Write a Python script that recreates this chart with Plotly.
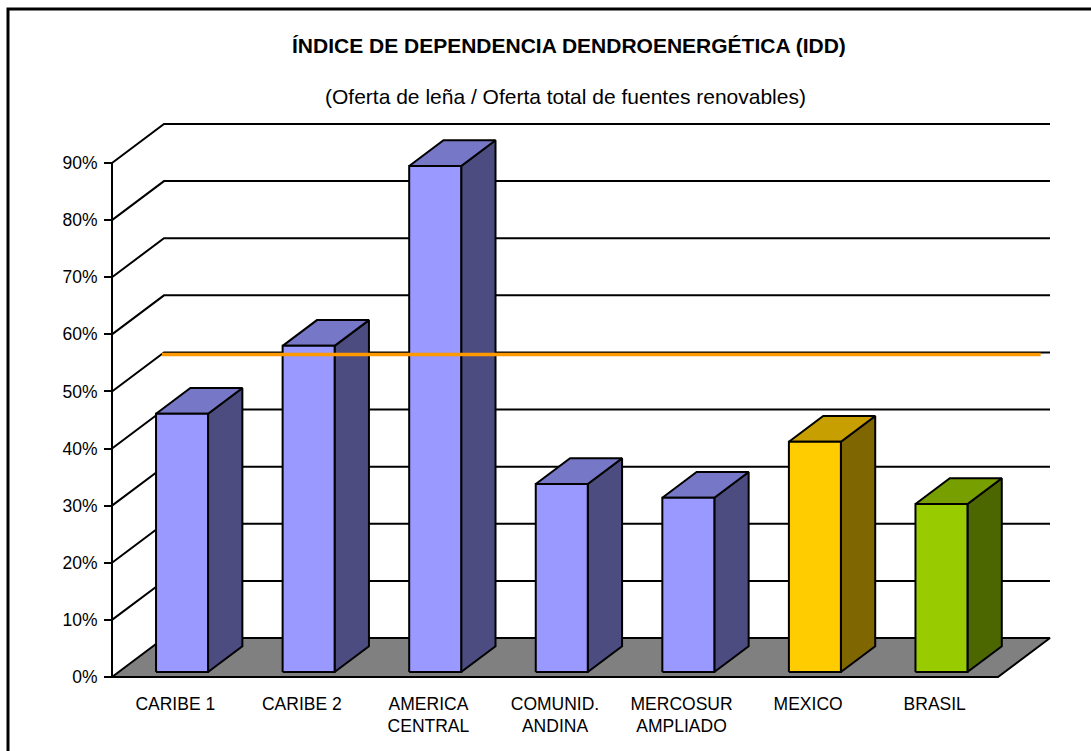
import plotly.graph_objects as go

# ---------------- data ----------------
categorias = ["CARIBE 1", "CARIBE 2", "AMERICA<br>CENTRAL", "COMUNID.<br>ANDINA",
              "MERCOSUR<br>AMPLIADO", "MEXICO", "BRASIL"]
idd = [0.452, 0.571, 0.886, 0.329, 0.305, 0.403, 0.294]
colores = ["#9999FF", "#9999FF", "#9999FF", "#9999FF", "#9999FF", "#FFCC00", "#99CC00"]
referencia = 0.556
ticks_y = [0.0, 0.1, 0.2, 0.3, 0.4, 0.5, 0.6, 0.7, 0.8, 0.9]
etiquetas_y = ["0%", "10%", "20%", "30%", "40%", "50%", "60%", "70%", "80%", "90%"]
titulo = "ÍNDICE DE DEPENDENCIA DENDROENERGÉTICA (IDD)"
subtitulo = "(Oferta de leña / Oferta total de fuentes renovables)"

# ---------------- geometry (layout only) ----------------
W, H = 1091, 751
PX_X = 126.57          # pixels per category unit
PX_Y = 571.1           # pixels per 1.0 (100%)
X0_PX, Y0_PX = 112, 677   # pixel of origin (front-left floor corner)
L_PX, R_PX, T_PX, B_PX = 102, 1060, 110, 687   # plot-area box
DX = 52 / PX_X         # depth offset in x units
DY = 39 / PX_Y         # depth offset in y units
BW = 52 / PX_X         # bar width
D0, D1 = 0.13, 0.79    # bar depth span (fraction of floor depth)
N = len(categorias)
FONT = "Arial, Liberation Sans, sans-serif"

x_range = [(L_PX - X0_PX) / PX_X, (R_PX - X0_PX) / PX_X]
y_range = [(Y0_PX - B_PX) / PX_Y, (Y0_PX - T_PX) / PX_Y]


def px_paper_x(px):
    return (px - L_PX) / (R_PX - L_PX)


def px_paper_y(py):
    return (B_PX - py) / (B_PX - T_PX)


def shade(hexcol, f):
    h = hexcol.lstrip("#")
    r, g, b = (int(h[i:i + 2], 16) for i in (0, 2, 4))
    return "rgb(%d,%d,%d)" % (round(r * f), round(g * f), round(b * f))


fig = go.Figure()

# walls: left diagonals + back gridlines
gx, gy = [], []
for v in ticks_y[1:]:
    gx += [0, DX, N + DX, None]
    gy += [v, v + DY, v + DY, None]
fig.add_trace(go.Scatter(x=gx, y=gy, mode="lines", line=dict(color="black", width=2),
                         hoverinfo="skip"))

# floor
fig.add_trace(go.Scatter(x=[0, N, N + DX, DX, 0], y=[0, 0, DY, DY, 0], mode="lines",
                         fill="toself", fillcolor="#808080",
                         line=dict(color="black", width=2), hoverinfo="skip"))

# vertical axis line
fig.add_trace(go.Scatter(x=[0, 0], y=[0, ticks_y[-1]], mode="lines",
                         line=dict(color="black", width=2), hoverinfo="skip"))

# bars
ox0, oy0, ox1, oy1 = D0 * DX, D0 * DY, D1 * DX, D1 * DY
for i, (v, c) in enumerate(zip(idd, colores)):
    xl = i + 0.5 - BW / 2
    xr = xl + BW
    faces = [
        ([xr + ox0, xr + ox1, xr + ox1, xr + ox0, xr + ox0],
         [oy0, oy1, oy1 + v, oy0 + v, oy0], shade(c, 0.5)),
        ([xl + ox0, xr + ox0, xr + ox1, xl + ox1, xl + ox0],
         [oy0 + v, oy0 + v, oy1 + v, oy1 + v, oy0 + v], shade(c, 0.78)),
        ([xl + ox0, xr + ox0, xr + ox0, xl + ox0, xl + ox0],
         [oy0, oy0, oy0 + v, oy0 + v, oy0], c),
    ]
    for fx, fy, fc in faces:
        fig.add_trace(go.Scatter(x=fx, y=fy, mode="lines", fill="toself", fillcolor=fc,
                                 line=dict(color="black", width=2), hoverinfo="skip"))

# reference line
fig.add_trace(go.Scatter(x=[DX * 0.96, N + DX * 0.82], y=[referencia + oy0, referencia + oy0],
                         mode="lines", line=dict(color="#FF9900", width=3.5), hoverinfo="skip"))

fig.update_layout(
    width=W, height=H, autosize=False,
    margin=dict(l=L_PX, r=W - R_PX, t=T_PX, b=H - B_PX, pad=0),
    paper_bgcolor="white", plot_bgcolor="white",
    showlegend=False, hovermode=False,
    font=dict(family=FONT, color="black"),
    xaxis=dict(range=x_range, showgrid=False, zeroline=False, showline=False,
               tickvals=[i + 0.5 for i in range(N)], ticktext=categorias,
               ticks="", tickfont=dict(size=17.5, family=FONT, color="black"),
               anchor="free", position=px_paper_y(Y0_PX), ticklabelstandoff=14),
    yaxis=dict(range=y_range, showgrid=False, zeroline=False, showline=False,
               tickvals=ticks_y, ticktext=etiquetas_y,
               ticks="outside", ticklen=8, tickwidth=2, tickcolor="black",
               tickfont=dict(size=17.5, family=FONT, color="black"),
               anchor="free", position=px_paper_x(X0_PX), ticklabelstandoff=3),
    annotations=[
        dict(text="<b>" + titulo + "</b>", xref="paper", yref="paper",
             x=px_paper_x(569), y=px_paper_y(45), xanchor="center", yanchor="middle",
             showarrow=False, font=dict(size=21, family=FONT, color="black")),
        dict(text=subtitulo, xref="paper", yref="paper",
             x=px_paper_x(565), y=px_paper_y(97), xanchor="center", yanchor="middle",
             showarrow=False, font=dict(size=21, family=FONT, color="black")),
    ],
    shapes=[dict(type="rect", xref="paper", yref="paper",
                 x0=px_paper_x(8), x1=px_paper_x(1100), y0=px_paper_y(760), y1=px_paper_y(9),
                 line=dict(color="black", width=3), layer="below")],
)

fig.write_html("out.html", config={"displayModeBar": False},
               post_script="document.body.style.margin='0';document.body.style.overflow='hidden';")
